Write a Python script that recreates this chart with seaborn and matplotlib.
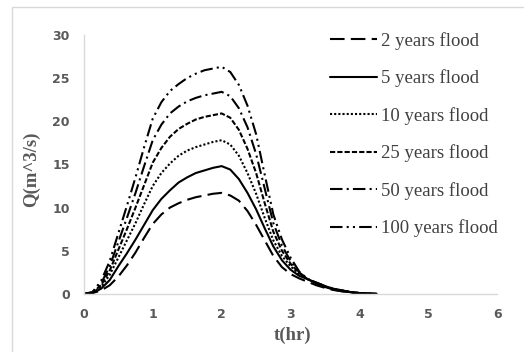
"""
Flood hydrographs for different return periods.
"""

import matplotlib.pyplot as plt
from matplotlib.lines import Line2D
import pandas as pd
import seaborn as sns

# time (hr), 0.125 hr steps
t_hr = [0, 0.125, 0.25, 0.375, 0.5, 0.625, 0.75, 0.875, 1.0, 1.125, 1.25, 1.375,
        1.5, 1.625, 1.75, 1.875, 2.0, 2.125, 2.25, 2.375, 2.5, 2.625, 2.75, 2.875,
        3.0, 3.125, 3.25, 3.375, 3.5, 3.625, 3.75, 3.875, 4.0, 4.125, 4.25]

# discharge (m^3/s) for each return period
q_2yr = [0, 0.1, 0.4, 1.0, 2.0, 3.3, 4.8, 6.5, 8.1, 9.2, 10.0, 10.5,
         10.9, 11.2, 11.4, 11.6, 11.7, 11.4, 10.8, 9.6, 8.0, 6.2, 4.4, 3.1,
         2.3, 1.8, 1.4, 1.0, 0.7, 0.45, 0.3, 0.2, 0.1, 0.05, 0]
q_5yr = [0, 0.1, 0.6, 1.6, 3.2, 4.7, 6.3, 8.0, 9.7, 11.0, 12.0, 12.9,
         13.5, 14.0, 14.3, 14.6, 14.8, 14.4, 13.3, 11.7, 9.8, 7.6, 5.5, 3.9,
         2.8, 2.1, 1.7, 1.2, 0.8, 0.5, 0.3, 0.2, 0.1, 0.05, 0]
q_10yr = [0, 0.12, 0.8, 2.2, 4.2, 6.2, 8.2, 10.4, 12.5, 14.0, 15.1, 16.0,
          16.6, 17.0, 17.3, 17.6, 17.8, 17.3, 16.0, 14.0, 11.6, 8.8, 6.2, 4.4,
          3.2, 2.3, 1.7, 1.3, 0.85, 0.55, 0.35, 0.2, 0.1, 0.05, 0]
q_25yr = [0, 0.15, 1.0, 2.7, 5.1, 7.5, 10.0, 12.6, 15.2, 16.9, 18.2, 19.1,
          19.7, 20.2, 20.5, 20.7, 20.9, 20.4, 19.0, 16.8, 14.0, 10.5, 7.2, 5.0,
          3.5, 2.4, 1.7, 1.3, 0.9, 0.6, 0.4, 0.2, 0.1, 0.05, 0]
q_50yr = [0, 0.2, 1.2, 3.2, 6.0, 8.8, 11.7, 14.8, 17.8, 19.6, 20.9, 21.7,
          22.3, 22.7, 23.0, 23.2, 23.4, 22.9, 21.5, 19.3, 16.2, 12.2, 8.2, 5.6,
          3.8, 2.5, 1.7, 1.3, 0.9, 0.6, 0.4, 0.2, 0.1, 0.05, 0]
q_100yr = [0, 0.2, 1.5, 3.8, 7.0, 10.2, 13.5, 17.0, 20.3, 22.2, 23.5, 24.3,
           25.0, 25.5, 25.9, 26.1, 26.3, 25.7, 24.2, 21.8, 18.5, 13.8, 9.2, 6.3,
           4.2, 2.6, 1.7, 1.3, 0.9, 0.6, 0.4, 0.2, 0.1, 0.05, 0]

labels = ["2 years flood", "5 years flood", "10 years flood",
          "25 years flood", "50 years flood", "100 years flood"]
series = [q_2yr, q_5yr, q_10yr, q_25yr, q_50yr, q_100yr]

df = pd.concat(
    [pd.DataFrame({"t": t_hr, "Q": q, "flood": lab}) for lab, q in zip(labels, series)],
    ignore_index=True,
)

dashes = {
    "2 years flood": (7, 3),
    "5 years flood": "",
    "10 years flood": (1, 1),
    "25 years flood": (2.5, 1),
    "50 years flood": (6, 2, 1, 2),
    "100 years flood": (6, 2, 1, 2, 1, 2),
}

sns.set_style("white")
fig = plt.figure(figsize=(5.24, 3.52), dpi=100)
ax = fig.add_axes([0.160, 0.165, 0.789, 0.736])

sns.lineplot(data=df, x="t", y="Q", style="flood", style_order=labels,
             dashes=dashes, color="black", linewidth=1.5, ax=ax)

handles, labs = ax.get_legend_handles_labels()
ax.get_legend().remove()
fig.legend(handles, labs, loc="upper left", bbox_to_anchor=(0.598, 0.958),
           frameon=False, prop={"family": "Liberation Serif", "size": 13.5},
           labelcolor="#404040", handlelength=2.5, handletextpad=0.2,
           labelspacing=1.05)

ax.set_xlim(0, 6)
ax.set_ylim(0, 30)
tick_font = {"family": "DejaVu Sans", "weight": "bold", "size": 9}
ax.set_xticks(range(0, 7), labels=[str(v) for v in range(0, 7)], fontdict=tick_font)
ax.set_yticks(range(0, 31, 5), labels=[str(v) for v in range(0, 31, 5)], fontdict=tick_font)
for s in ["top", "right"]:
    ax.spines[s].set_visible(False)
for s in ["left", "bottom"]:
    ax.spines[s].set_color("#d9d9d9")
    ax.spines[s].set_linewidth(1)
ax.tick_params(axis="both", length=4, color="#d9d9d9", labelcolor="#595959",
               direction="out", pad=6)

ax.set_xlabel("t(hr)", family="Liberation Serif", fontweight="bold",
              fontsize=13.5, color="#595959")
ax.set_ylabel("Q(m^3/s)", family="Liberation Serif", fontweight="bold",
              fontsize=13.5, color="#595959")
ax.xaxis.set_label_coords(0.505, -0.125)
ax.yaxis.set_label_coords(-0.105, 0.48)

# cropped chart-area border: top and left edges only
W, H = 524, 352
fig.add_artist(Line2D([12 / W, 1], [1 - 7 / H] * 2, transform=fig.transFigure,
                      color="#d9d9d9", linewidth=1))
fig.add_artist(Line2D([12 / W] * 2, [0, 1 - 7 / H], transform=fig.transFigure,
                      color="#d9d9d9", linewidth=1))

fig.savefig("out.png", dpi=100)
